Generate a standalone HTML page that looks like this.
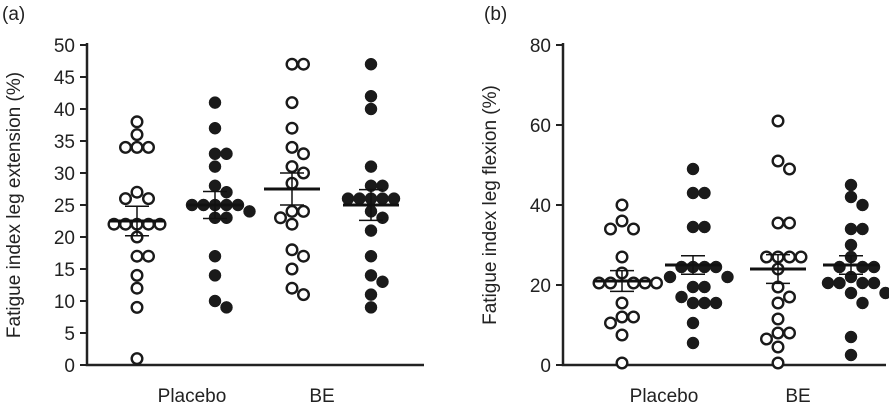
<!DOCTYPE html>
<html><head><meta charset="utf-8"><style>
body{margin:0;background:#fff;}
svg text{font-family:"Liberation Sans",Arial,sans-serif;fill:#222;}
</style></head><body>
<svg id="chart" width="889" height="409" viewBox="0 0 889 409" xmlns="http://www.w3.org/2000/svg"></svg>
<script>
// Panel (a): leg extension
const groupsA = ["Placebo-open","Placebo-filled","BE-open","BE-filled"];
const placeboOpenA = [38,36,34,34,34,27,26,26,22,22,22,22,22,20,17,17,14,12,9,1];
const placeboFilledA = [41,37,33,33,31,28,27,25,25,25,25,25,24,23,23,17,14,10,9];
const beOpenA = [47,47,41,37,34,33,31,30,28.4,24,24,23,22,18,17,15,12,11];
const beFilledA = [47,42,40,31,28,28,26,26,26,26,26,24,23,21,17,14,13,11,9];
const meansA = [22.5,25,27.5,25];
const semA = [2.3,2.1,2.5,2.4];
const ticksA = [0,5,10,15,20,25,30,35,40,45,50];
// Panel (b): leg flexion
const placeboOpenB = [40,36,34,34,27,23,20.5,20.5,20.5,20.5,20.5,15.5,12,12,10.5,7.5,0.5];
const placeboFilledB = [49,43,43,34.5,34.5,24.5,24.5,24.5,24.5,22,22,19.5,19.5,17,15.5,15.5,15.5,10.5,5.5];
const beOpenB = [61,51,49,35.5,35.5,27,27,27,27,24,19.5,17,15.5,11.5,8,8,6.5,4.5,0.5];
const beFilledB = [45,42,40,34,34,30,27,24.5,24.5,24.5,22,20.5,20.5,20.5,20.5,18,18,15.5,7,2.5];
const meansB = [21,25,24,25];
const semB = [2.6,2.3,3.6,2.3];
const ticksB = [0,20,40,60,80];

const NS="http://www.w3.org/2000/svg";
const svg=document.getElementById('chart');
function mk(tag,attrs,parent){const e=document.createElementNS(NS,tag);for(const k in attrs)e.setAttribute(k,attrs[k]);(parent||svg).appendChild(e);return e;}

function panel(cfg){
  const g=mk('g',{});
  
  
  const y=v=>cfg.y0-(v-cfg.min)/(cfg.max-cfg.min)*(cfg.y0-cfg.y1);
  const ax=mk('path',{d:`M${cfg.ax},${cfg.y1-2}V${cfg.y0}H${cfg.xEnd}`,stroke:'#222','stroke-width':2.5,fill:'none'},g);
  
  
  cfg.ticks.forEach(t=>{
    mk('line',{x1:cfg.ax-7,x2:cfg.ax,y1:y(t),y2:y(t),stroke:'#222','stroke-width':2},g);
    const tx=mk('text',{x:cfg.ax-12,y:y(t)+7,'text-anchor':'end','font-size':19},g);
    tx.textContent=t;
    
    
  });
  const yt=mk('text',{x:0,y:0,transform:`translate(${cfg.titleX},${(cfg.y0+cfg.y1)/2}) rotate(-90)`,'text-anchor':'middle','font-size':19},g);
  yt.textContent=cfg.title;
  
  
  const pl=mk('text',{x:cfg.labelX[0],y:402,'text-anchor':'middle','font-size':19},g);
  pl.textContent='Placebo';
  
  
  const be=mk('text',{x:cfg.labelX[1],y:402,'text-anchor':'middle','font-size':19},g);
  be.textContent='BE';
  
  
  const lt=mk('text',{x:cfg.letterX,y:20,'font-size':19},g);
  lt.textContent=cfg.letter;
  
  
  cfg.series.forEach((vals,i)=>{
    const cx=cfg.centers[i], open=i%2===0;
    const placed=[];
    vals.slice().sort((a,b)=>b-a).forEach(v=>{
      const py=y(v);
      let chosen=0;
      for(let k=0;k<20;k++){
        const off=(k===0?0:(k%2?1:-1)*Math.ceil(k/2)*11.5);
        if(placed.every(p=>Math.hypot(p[0]-off,p[1]-py)>=11)){chosen=off;break;}
      }
      placed.push([chosen,py]);
      const c=mk('circle',{cx:cx+chosen,cy:py,r:open?5.3:6,fill:open?'#fff':'#1a1a1a',stroke:'#1a1a1a','stroke-width':open?2.4:0.5},g);
      
      
    });
    const m=cfg.means[i], s=cfg.sem[i];
    const ml=mk('line',{x1:cx-28,x2:cx+28,y1:y(m),y2:y(m),stroke:'#111','stroke-width':3},g);
    
    
    mk('path',{d:`M${cx},${y(m-s)}V${y(m+s)}M${cx-12},${y(m-s)}H${cx+12}M${cx-12},${y(m+s)}H${cx+12}`,stroke:'#111','stroke-width':1.5,fill:'none'},g);
  });
}
panel({name:'panel-a',letter:'(a)',letterX:2,ax:87,xEnd:424,y0:365,y1:45,min:0,max:50,ticks:ticksA,
  title:'Fatigue index leg extension (%)',titleX:20,labelX:[192,322],centers:[137,215,292,371],
  series:[placeboOpenA,placeboFilledA,beOpenA,beFilledA],means:meansA,sem:semA});
panel({name:'panel-b',letter:'(b)',letterX:484,ax:563,xEnd:886,y0:365,y1:45,min:0,max:80,ticks:ticksB,
  title:'Fatigue index leg flexion (%)',titleX:496,labelX:[664,798],centers:[622,693,778,851],
  series:[placeboOpenB,placeboFilledB,beOpenB,beFilledB],means:meansB,sem:semB});
</script>
</body></html>
